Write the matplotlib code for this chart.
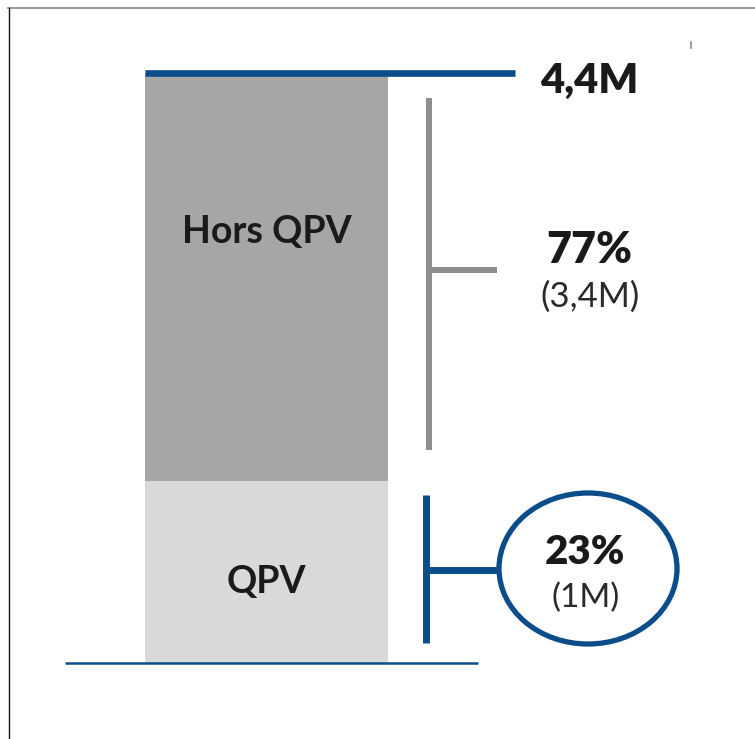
"""Stacked single bar: QPV vs hors QPV population split."""
import matplotlib

matplotlib.use("Agg")
import matplotlib.pyplot as plt  # noqa: E402
from matplotlib.lines import Line2D  # noqa: E402
from matplotlib.patches import Ellipse  # noqa: E402

plt.rcParams["font.family"] = ["Lato", "DejaVu Sans"]

# data (millions). The drawn segment heights follow the picture, which is not to scale.
segments = ["QPV", "Hors QPV"]
drawn_heights = [1.36, 3.04]
shares = ["23%", "77%"]
amounts = ["(1M)", "(3,4M)"]
total_label = "4,4M"
total = 4.4

BLUE = "#0b4d8b"
GRAY = "#8e8c8c"
SEG_COLORS = ["#d9d9d9", "#a6a6a6"]
TXT = "#1a1a1a"
SUB = "#2a2a2a"

W, H = 755, 739
Y0_PX, TOP_PX = 663, 73
PX_PER_M = (Y0_PX - TOP_PX) / total


def m(y_px):
    """pixel row -> value in millions on the y axis"""
    return (Y0_PX - y_px) / PX_PER_M


fig = plt.figure(figsize=(W / 100, H / 100), dpi=100)
ax = fig.add_axes([0, 0, 1, 1])
ax.set_xlim(0, W)
ax.set_ylim(m(H), m(0))
ax.axis("off")

# stacked bar, labels sit at the baselines seen in the picture
label_rows = {"QPV": 593, "Hors QPV": 243}
bottom = 0
for name, h, c in zip(segments, drawn_heights, SEG_COLORS):
    ax.bar(266.5, h, width=243, bottom=bottom, color=c, zorder=1)
    ax.text(266.5, m(label_rows[name]), name, ha="center", va="baseline",
            fontsize=27, fontweight="bold", color=TXT)
    bottom += h

# total line + baseline
ax.plot([145, 515], [total, total], color=BLUE, lw=4.8, solid_capstyle="butt", zorder=3)
ax.plot([65, 478], [0, 0], color=BLUE, lw=1.8, solid_capstyle="butt", zorder=3)
ax.text(589, m(93), total_label, ha="center", va="baseline",
        fontsize=30, fontweight="heavy", color=TXT)

# bracket for hors QPV
ax.plot([428.5, 428.5], [m(98), m(450)], color=GRAY, lw=4.3, solid_capstyle="butt")
ax.plot([428.5, 497], [m(270), m(270)], color=GRAY, lw=4.3, solid_capstyle="butt")
ax.text(589, m(263), shares[1], ha="center", va="baseline",
        fontsize=31, fontweight="heavy", color=TXT)
ax.text(590, m(307), amounts[1], ha="center", va="baseline",
        fontsize=25, fontweight="normal", color=SUB)

# bracket for QPV + ellipse
ax.plot([425.5, 425.5], [m(495), m(643)], color=BLUE, lw=5, solid_capstyle="butt")
ax.plot([425.5, 500], [m(569.5), m(569.5)], color=BLUE, lw=5, solid_capstyle="butt")
ax.add_patch(Ellipse((588, m(568.5)), 178, 151 / PX_PER_M, fill=False,
                     edgecolor=BLUE, lw=3.8))
ax.text(585, m(564), shares[0], ha="center", va="baseline",
        fontsize=29, fontweight="heavy", color=TXT)
ax.text(586, m(607), amounts[0], ha="center", va="baseline",
        fontsize=24, fontweight="normal", color=SUB)

# little stray tick top right
ax.plot([690.5, 690.5], [m(42), m(48)], color=GRAY, lw=1.2)

# frame (top + left only)
fig.add_artist(Line2D([8 / W, 1], [1 - 7.5 / H, 1 - 7.5 / H],
                      transform=fig.transFigure, color="#888888", lw=1.2))
fig.add_artist(Line2D([8.5 / W, 8.5 / W], [0, 1 - 7.5 / H],
                      transform=fig.transFigure, color="#111111", lw=1.0))

fig.savefig("out.png", dpi=100)
